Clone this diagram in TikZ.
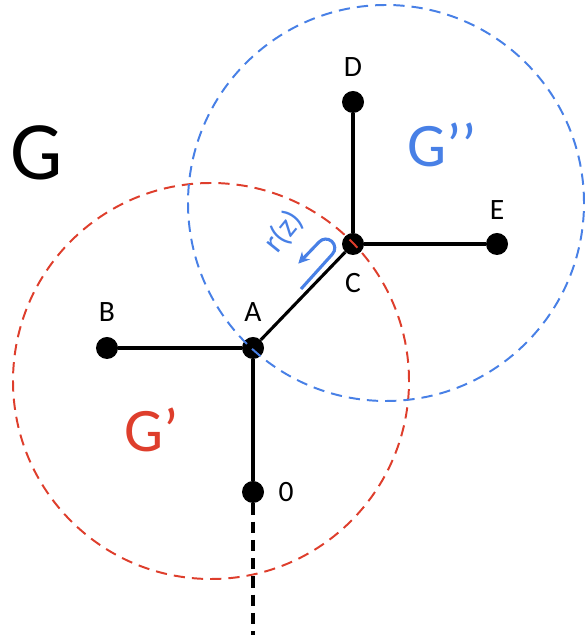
\documentclass[tikz,border=0pt]{standalone}
\usepackage{fontspec}
\setmainfont{Carlito}
\usetikzlibrary{arrows.meta, positioning}

\definecolor{gred}{RGB}{222,62,44}
\definecolor{gblue}{RGB}{72,128,230}

\begin{document}
\begin{tikzpicture}[
    x=0.025cm, y=0.025cm,
    node distance=0.3cm,
    vertex/.style={circle, fill=black, inner sep=0pt, minimum size=0.55cm},
    lbl/.style={font=\fontsize{21}{23}\selectfont, inner sep=0pt},
    big/.style={font=\fontsize{44}{48}\selectfont, inner sep=0pt},
    edge/.style={line width=2.2pt},
    region/.style={dashed, line width=1.4pt, dash pattern=on 8pt off 5pt}
]
\useasboundingbox (0,0) rectangle (584,643);

% Vertices
\node[vertex] (a) at (253,295) {};
\node[vertex] (b) at (107,295) {};
\node[vertex] (c) at (353,399) {};
\node[vertex] (d) at (353,541) {};
\node[vertex] (e) at (497,399) {};
\node[vertex] (o) at (253,151) {};
\coordinate (tail) at (253,8);

% Vertex labels
\node[lbl, above=0.37cm of a] (la) {A};
\node[lbl, above=0.37cm of b] (lb) {B};
\node[lbl, below=0.45cm of c] (lc) {C};
\node[lbl, above=0.35cm of d] (ld) {D};
\node[lbl, above=0.33cm of e] (le) {E};
\node[lbl, right=0.35cm of o] (lo) {0};

% Edges
\draw[edge] (b) -- (a);
\draw[edge] (a) -- (c);
\draw[edge] (c) -- (d);
\draw[edge] (c) -- (e);
\draw[edge] (a) -- (o);
\draw[edge, dash pattern=on 8pt off 5pt] (o) -- (tail);

% Subgraph regions
\draw[region, gred] (211,262) circle (198);
\draw[region, gblue] (386,440) circle (198);

% Graph names
\node[font=\fontsize{59}{62}\selectfont, inner sep=0pt] (g) at (37,490) {G};
\node[big, gblue] (g2) at (442,498) {G’’};
\node[big, gred] (g1) at (152,213) {G’};

% Root direction
\begin{scope}[shift={(301,354)}, rotate=48]
  \draw[gblue, line width=2.2pt, -{Stealth[length=8pt, width=8pt]}]
    (0,0) -- (47,0) arc (-90:90:9) -- (17,19);
  \node[gblue, font=\fontsize{23}{25}\selectfont, inner sep=0pt, rotate=51] (rz) at (31,51) {r(z)};
\end{scope}

\end{tikzpicture}
\end{document}
